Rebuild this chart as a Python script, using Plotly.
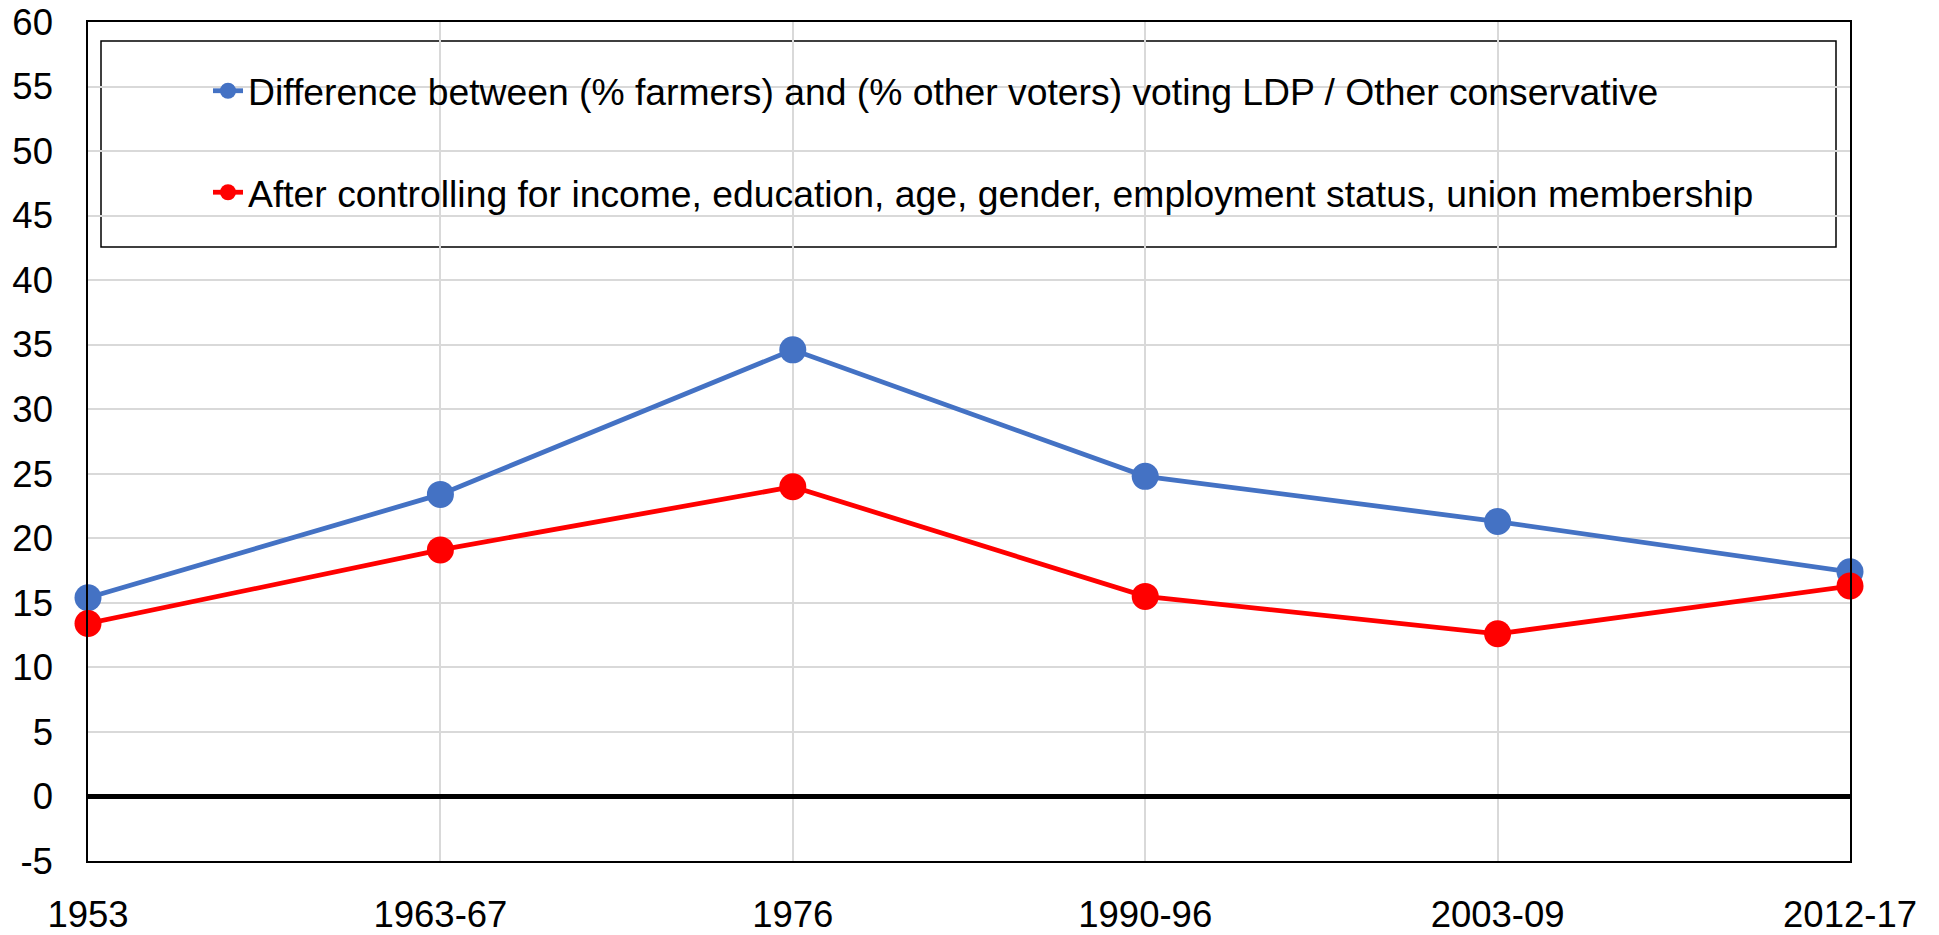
import plotly.graph_objects as go

# Election periods on the category axis
periods = ["1953", "1963-67", "1976", "1990-96", "2003-09", "2012-17"]

# Farmer vs. other voters gap in LDP / other conservative vote (percentage points)
raw_gap = [15.4, 23.4, 34.6, 24.8, 21.3, 17.4]
# Same gap after controls
controlled_gap = [13.4, 19.1, 24.0, 15.5, 12.6, 16.3]

y_ticks = list(range(-5, 61, 5))

BLUE = "#4472C4"
RED = "#FF0000"
GRID = "#D9D9D9"
FONT = "Liberation Sans, Arial, sans-serif"

W, H = 1939, 935
ML, MR, MT, MB = 88, 89, 22, 74
PW, PH = W - ML - MR, H - MT - MB


def px_x(p):
    return (p - ML) / PW


def px_y(p):
    return (H - MB - p) / PH


fig = go.Figure()

fig.add_trace(go.Scatter(
    x=periods, y=raw_gap, mode="lines+markers",
    name="Difference between (% farmers) and (% other voters) voting LDP / Other conservative",
    line=dict(color=BLUE, width=4.8),
    marker=dict(color=BLUE, size=27),
    legendgroup="a",
    cliponaxis=False,
))
fig.add_trace(go.Scatter(
    x=periods, y=controlled_gap, mode="lines+markers",
    name="After controlling for income, education, age, gender, employment status, union membership",
    line=dict(color=RED, width=4.8),
    marker=dict(color=RED, size=27),
    legendgroup="b",
    cliponaxis=False,
))

# Legend frame
fig.add_shape(
    type="rect", xref="paper", yref="paper",
    x0=px_x(101), x1=px_x(1836), y0=px_y(247), y1=px_y(41),
    line=dict(color="black", width=1.5), fillcolor="white", layer="below",
)

fig.update_layout(
    width=W, height=H,
    margin=dict(l=ML, r=MR, t=MT, b=MB, autoexpand=False),
    paper_bgcolor="white",
    plot_bgcolor="white",
    font=dict(family=FONT, color="black", size=36),
    showlegend=True,
    legend=dict(
        x=px_x(208), y=px_y(60), xanchor="left", yanchor="top",
        bgcolor="rgba(0,0,0,0)", borderwidth=0,
        font=dict(family=FONT, size=37.3, color="black"),
        tracegroupgap=50,
        itemwidth=30,
    ),
    xaxis=dict(
        type="category",
        categoryorder="array", categoryarray=periods,
        range=[0, len(periods) - 1],
        automargin=False,
        showgrid=True, gridcolor=GRID, gridwidth=1.5,
        showline=True, linecolor="black", linewidth=1.5, mirror=True,
        ticks="outside", ticklen=20, tickcolor="rgba(0,0,0,0)",
        tickfont=dict(family=FONT, size=36.5, color="black"),
        zeroline=False,
    ),
    yaxis=dict(
        range=[-5, 60],
        tickvals=y_ticks,
        ticktext=[str(v) for v in y_ticks],
        automargin=False,
        showgrid=True, gridcolor=GRID, gridwidth=1.5,
        showline=True, linecolor="black", linewidth=1.5, mirror=True,
        zeroline=True, zerolinecolor="black", zerolinewidth=4.5,
        ticks="outside", ticklen=26, tickcolor="rgba(0,0,0,0)",
        tickfont=dict(family=FONT, size=36.5, color="black"),
    ),
)

fig.write_html("out.html")
